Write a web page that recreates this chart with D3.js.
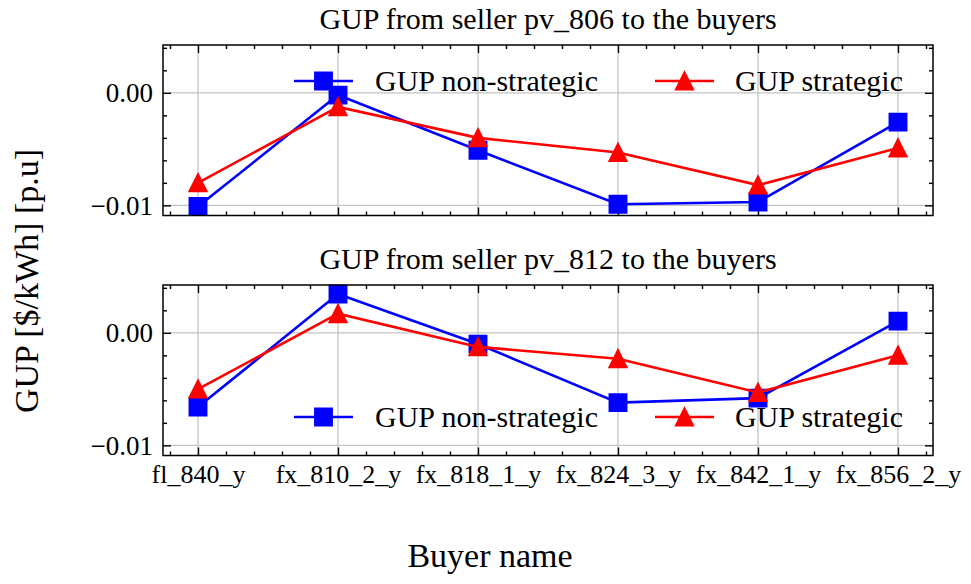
<!DOCTYPE html>
<html>
<head>
<meta charset="utf-8">
<script src="https://cdn.jsdelivr.net/npm/d3@7/dist/d3.min.js"></script>
<style>
  html, body { margin: 0; padding: 0; background: #fff; }
  svg text { font-family: "Liberation Serif", "Times New Roman", serif; fill: #000; }
</style>
</head>
<body>
<svg id="chart" width="971" height="584"></svg>
<script>
// ---- data ----
const categories = ["fl_840_y", "fx_810_2_y", "fx_818_1_y", "fx_824_3_y", "fx_842_1_y", "fx_856_2_y"];
const panelTitles = ["GUP from seller pv_806 to the buyers", "GUP from seller pv_812 to the buyers"];
const seriesNames = ["GUP non-strategic", "GUP strategic"];
const top_nonstrategic    = [-0.0101, -0.0002, -0.0051, -0.0099, -0.0097, -0.0026];
const top_strategic       = [-0.0080, -0.00125, -0.0040, -0.0053, -0.0082, -0.0049];
const bottom_nonstrategic = [-0.0066, 0.00345, -0.0010, -0.0062, -0.0058, 0.00104];
const bottom_strategic    = [-0.0050, 0.0017, -0.00125, -0.0023, -0.0053, -0.0020];
const yMajorTicks = [-0.01, 0.00];
const xLabel = "Buyer name";
const yLabel = "GUP [$/kWh] [p.u]";

// ---- layout ----
const W = 971, H = 584;
const left = 163, right = 933;
const panels = [
  { top: 45,  bottom: 215.5, series: [top_nonstrategic, top_strategic], title: panelTitles[0], legendPos: "top", showX: false },
  { top: 285, bottom: 455.5, series: [bottom_nonstrategic, bottom_strategic], title: panelTitles[1], legendPos: "bottom", showX: true }
];
const colors = ["#0000ff", "#ff0000"];
const markers = ["square", "triangle"];
const svg = d3.select("#chart");

const x = d3.scaleLinear().domain([-0.25, 5.25]).range([left, right]);
const xMajor = d3.range(categories.length);
const xMinor = d3.range(-0.2, 5.21, 0.2).filter(v => Math.abs(v - Math.round(v)) > 1e-6);
const yDomain = [-0.0109, 0.00425];
const yMinor = d3.range(-0.010, 0.0041, 0.002).filter(v => yMajorTicks.every(t => Math.abs(t - v) > 1e-7));

const MS = 16.5;   // marker size
function markerPath(type) {
  const h = MS / 2;
  if (type === "square") return `M${-h},${-h}H${h}V${h}H${-h}Z`;
  return `M0,${-h}L${h},${h}L${-h},${h}Z`;
}

panels.forEach(p => {
  const y = d3.scaleLinear().domain(yDomain).range([p.bottom, p.top]);
  const g = svg.append("g");
  const ph = p.bottom - p.top, pw = right - left;

  // grid
  g.append("g").selectAll("line.gx").data(xMajor).join("line")
    .attr("x1", d => x(d)).attr("x2", d => x(d)).attr("y1", p.top).attr("y2", p.bottom)
    .attr("stroke", "#c4c4c4").attr("stroke-width", 1.3);
  g.append("g").selectAll("line.gy").data(yMajorTicks).join("line")
    .attr("x1", left).attr("x2", right).attr("y1", d => y(d)).attr("y2", d => y(d))
    .attr("stroke", "#c4c4c4").attr("stroke-width", 1.3);

  // axes (inward ticks on all sides)
  const styleAxis = sel => { sel.select(".domain").remove(); sel.selectAll(".tick line").attr("stroke", "#000").attr("stroke-width", 1.4); };
  const bx = g.append("g").attr("transform", `translate(0,${p.bottom})`)
    .call(d3.axisBottom(x).tickValues(xMajor).tickSize(-8).tickPadding(9)
      .tickFormat(i => p.showX ? categories[i] : ""));
  bx.call(styleAxis); bx.selectAll("text").attr("font-size", 26).attr("font-family", "Liberation Serif");
  g.append("g").attr("transform", `translate(0,${p.bottom})`)
    .call(d3.axisBottom(x).tickValues(xMinor).tickSize(-4).tickFormat("")).call(styleAxis);
  g.append("g").attr("transform", `translate(0,${p.top})`)
    .call(d3.axisTop(x).tickValues(xMajor).tickSize(-8).tickFormat("")).call(styleAxis);
  g.append("g").attr("transform", `translate(0,${p.top})`)
    .call(d3.axisTop(x).tickValues(xMinor).tickSize(-4).tickFormat("")).call(styleAxis);

  const ly = g.append("g").attr("transform", `translate(${left},0)`)
    .call(d3.axisLeft(y).tickValues(yMajorTicks).tickSize(-8).tickPadding(10).tickFormat(d3.format(".2f")));
  ly.call(styleAxis); ly.selectAll("text").attr("font-size", 27).attr("font-family", "Liberation Serif");
  g.append("g").attr("transform", `translate(${left},0)`)
    .call(d3.axisLeft(y).tickValues(yMinor).tickSize(-4).tickFormat("")).call(styleAxis);
  g.append("g").attr("transform", `translate(${right},0)`)
    .call(d3.axisRight(y).tickValues(yMajorTicks).tickSize(-8).tickFormat("")).call(styleAxis);
  g.append("g").attr("transform", `translate(${right},0)`)
    .call(d3.axisRight(y).tickValues(yMinor).tickSize(-4).tickFormat("")).call(styleAxis);

  // series
  const line = d3.line().x((d, i) => x(i)).y(d => y(d));
  p.series.forEach((vals, si) => {
    g.append("path").datum(vals).attr("d", line)
      .attr("fill", "none").attr("stroke", colors[si]).attr("stroke-width", 2.6);
    g.append("g").selectAll("path").data(vals).join("path")
      .attr("transform", (d, i) => `translate(${x(i)},${y(d)})`)
      .attr("d", markerPath(markers[si]))
      .attr("fill", colors[si]).attr("stroke", colors[si]).attr("stroke-width", 2.4)
      .attr("stroke-linejoin", "miter");
  });

  // frame
  g.append("rect").attr("x", left).attr("y", p.top).attr("width", pw).attr("height", ph)
    .attr("fill", "none").attr("stroke", "#000").attr("stroke-width", 1.5);

  // title
  g.append("text").attr("x", (left + right) / 2).attr("y", p.top - 16)
    .attr("text-anchor", "middle").attr("font-size", 30).text(p.title);

  // legend
  const legY = p.legendPos === "top" ? p.top + 36 : p.bottom - 38.5;
  const legItems = [{ x0: 294, tx: 375 }, { x0: 655, tx: 735 }];
  legItems.forEach((it, si) => {
    const lg = g.append("g");
    lg.append("line").attr("x1", it.x0).attr("x2", it.x0 + 59).attr("y1", legY).attr("y2", legY)
      .attr("stroke", colors[si]).attr("stroke-width", 2.6);
    lg.append("path").attr("transform", `translate(${it.x0 + 29.5},${legY})`)
      .attr("d", markerPath(markers[si])).attr("fill", colors[si]).attr("stroke", colors[si]).attr("stroke-width", 2.4);
    lg.append("text").attr("x", it.tx).attr("y", legY + 10).attr("font-size", 30).text(seriesNames[si]);
  });
});

// axis labels
svg.append("text").attr("x", 490).attr("y", 567).attr("text-anchor", "middle").attr("font-size", 34).text(xLabel);
svg.append("text").attr("transform", "translate(38,281) rotate(-90)").attr("text-anchor", "middle")
  .attr("font-size", 34).text(yLabel);
</script>
</body>
</html>
